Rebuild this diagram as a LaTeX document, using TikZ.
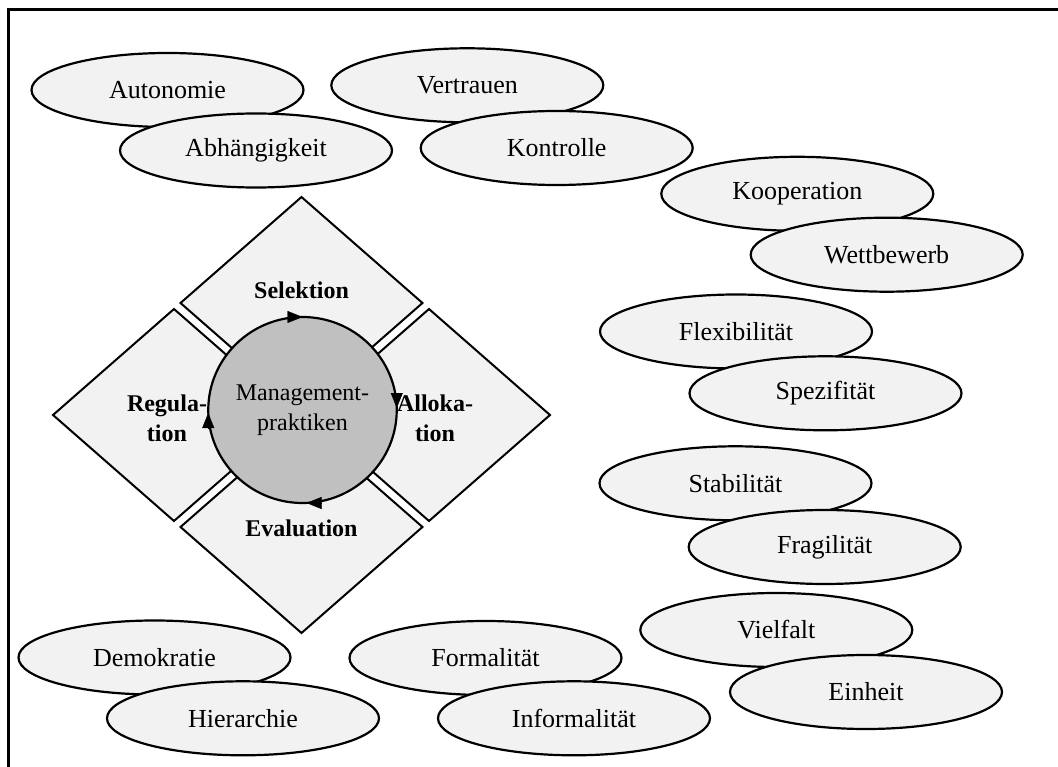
\documentclass[tikz,border=0pt]{standalone}
\usepackage{fontspec}
\setmainfont{Liberation Serif}
\usetikzlibrary{shapes.geometric,arrows.meta}
\definecolor{lightfill}{RGB}{242,242,242}
\definecolor{hubfill}{RGB}{192,192,192}

\begin{document}
\begin{tikzpicture}[x=1pt,y=-1pt,
  pole/.style={ellipse, draw, line width=2.2pt, fill=lightfill,
    minimum width=272pt, minimum height=74pt, inner sep=0pt,
    font=\fontsize{26}{30}\selectfont},
  facet/.style={draw, line width=2pt, fill=lightfill, line join=miter},
  facetlabel/.style={align=center, inner sep=0pt,
    font=\fontsize{24}{30}\selectfont\bfseries},
  hub/.style={ellipse, draw, line width=2.2pt, fill=hubfill,
    minimum width=166pt, minimum height=186pt, inner sep=0pt, align=center,
    font=\fontsize{24}{30}\selectfont},
  cycarrow/.style={line width=0.4pt, -{Triangle[length=15pt,width=12pt]}},
  frame/.style={line width=3pt}
]
\useasboundingbox (0,0) rectangle (1058,767);

% outer frame
\coordinate (fbl) at (8,770);
\coordinate (ftl) at (8,10);
\coordinate (ftr) at (1062,10);
\draw[frame] (fbl) -- (ftl) -- (ftr);

% the four facets around the management practices
\draw[facet] (301.5,197) -- (422.5,303) -- (301.5,409) -- (180.5,303) -- cycle;
\draw[facet] (53,415) -- (174,309) -- (295,415) -- (174,521) -- cycle;
\draw[facet] (308,415) -- (429,309) -- (550,415) -- (429,521) -- cycle;
\draw[facet] (180.5,527) -- (301.5,421) -- (422.5,527) -- (301.5,633) -- cycle;

\node[facetlabel] (sel) at (301.5,290) {Selektion};
\node[facetlabel] (eva) at (301.5,528) {Evaluation};
\node[facetlabel] (reg) at (167,418) {Regula-\\tion};
\node[facetlabel] (all) at (435,418) {Alloka-\\tion};

% central cycle, running clockwise
\node[hub] (mp) at (302.5,410) {Management-\\praktiken};
\draw[cycarrow] ([xshift=-16pt,yshift=-1.1pt]mp.north) -- ([yshift=-1.1pt]mp.north);
\draw[cycarrow] ([xshift=-1.1pt,yshift=17pt]mp.east) -- ([xshift=-1.1pt,yshift=2pt]mp.east);
\draw[cycarrow] ([xshift=19pt,yshift=1.1pt]mp.south) -- ([xshift=4pt,yshift=1.1pt]mp.south);
\draw[cycarrow] ([xshift=1.1pt,yshift=-18pt]mp.west) -- ([xshift=1.1pt,yshift=-3pt]mp.west);

% tension pairs
\node[pole] (aut) at (167.5,90)   {Autonomie};
\node[pole] (abh) at (256,150.5)  {Abhängigkeit};
\node[pole] (ver) at (467.3,85.3) {Vertrauen};
\node[pole] (kon) at (556.7,148)  {Kontrolle};
\node[pole] (koo) at (797.3,193.8) {Kooperation};
\node[pole] (wet) at (886.7,254.7) {Wettbewerb};
\node[pole] (fle) at (736,331.5)  {Flexibilität};
\node[pole] (spe) at (825.5,393.3) {Spezifität};
\node[pole] (sta) at (735.5,483.3) {Stabilität};
\node[pole] (fra) at (824.7,547)  {Fragilität};
\node[pole] (vie) at (776.3,630)  {Vielfalt};
\node[pole] (ein) at (866,692)    {Einheit};
\node[pole] (dem) at (154.5,657.5) {Demokratie};
\node[pole] (hie) at (243,718.3)  {Hierarchie};
\node[pole] (for) at (485.5,658)  {Formalität};
\node[pole] (inf) at (574,718.3)  {Informalität};
\end{tikzpicture}
\end{document}
